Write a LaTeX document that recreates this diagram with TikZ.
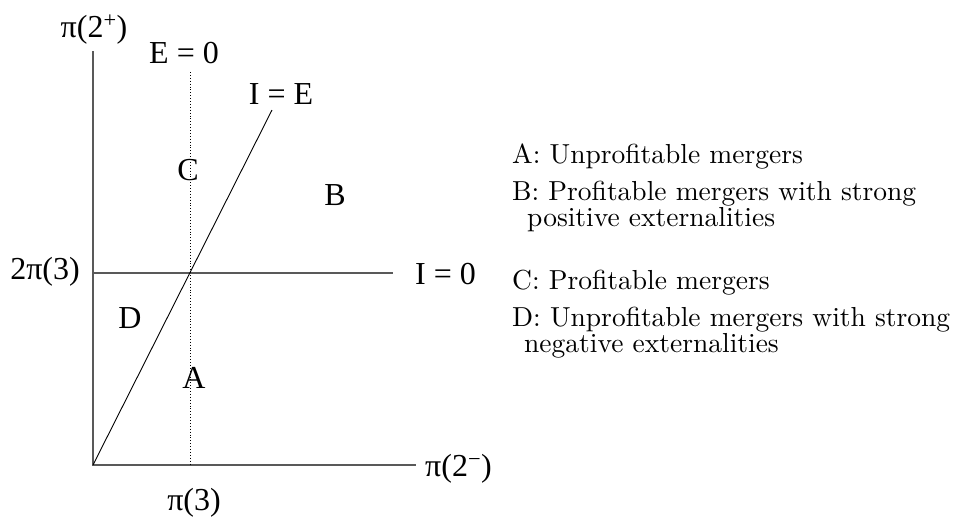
\documentclass[tikz,border=0pt]{standalone}
\usepackage{fontspec}
\newfontfamily\tnr{Liberation Serif}
\newfontfamily\lmten{lmroman10-regular}[Extension=.otf]
\begin{document}
\begin{tikzpicture}[x=1pt,y=-1pt,
  axis/.style={draw=black!65,line width=1.6pt},
  thin line/.style={draw=black,line width=0.9pt},
  dotline/.style={draw=black,line width=0.9pt,dotted},
  glabel/.style={inner sep=0pt,font=\tnr\fontsize{32}{38}\selectfont},
  leg/.style={inner sep=0pt,anchor=base west,font=\lmten\fontsize{27.5}{33}\selectfont}]
\useasboundingbox (0,0) rectangle (954,520);
% coordinates
\coordinate (O) at (93,465);
\coordinate (Ytop) at (93,51);
\coordinate (Xend) at (416,465);
\coordinate (I0s) at (93,273);
\coordinate (I0e) at (393,273);
\coordinate (Et) at (190,72);
\coordinate (Eb) at (190,465);
\coordinate (IEt) at (272,110);
% lines
\draw[axis] (Ytop) -- (O) -- (Xend);
\draw[axis] (I0s) -- (I0e);
\draw[dotline] (Et) -- (Eb);
\draw[thin line] (O) -- (IEt);
% graph labels
\node[glabel,anchor=base] (ylab) at (94,37) {π(2\textsuperscript{+})};
\node[glabel,anchor=base] (e0) at (184,63) {E = 0};
\node[glabel,anchor=base] (ie) at (281,104) {I = E};
\node[glabel,anchor=base] (C) at (188,180) {C};
\node[glabel,anchor=base] (B) at (335,205) {B};
\node[glabel,anchor=base west] (i0) at (415,284) {I = 0};
\node[glabel,anchor=base east] (tp3) at (80,279) {2π(3)};
\node[glabel,anchor=base] (D) at (130,328) {D};
\node[glabel,anchor=base] (A) at (194,388) {A};
\node[glabel,anchor=base] (p3) at (194,510) {π(3)};
\node[glabel,anchor=base west] (xlab) at (425,476) {π(2\textsuperscript{\char"2212})};
% legend
\node[leg] (la) at (512,163) {A: Unprofitable mergers};
\node[leg] (lb1) at (512,200) {B: Profitable mergers with strong};
\node[leg] (lb2) at (527,226) {positive externalities};
\node[leg] (lc) at (512,289) {C: Profitable mergers};
\node[leg] (ld1) at (512,326) {D: Unprofitable mergers with strong};
\node[leg] (ld2) at (524,352) {negative externalities};
\end{tikzpicture}
\end{document}
